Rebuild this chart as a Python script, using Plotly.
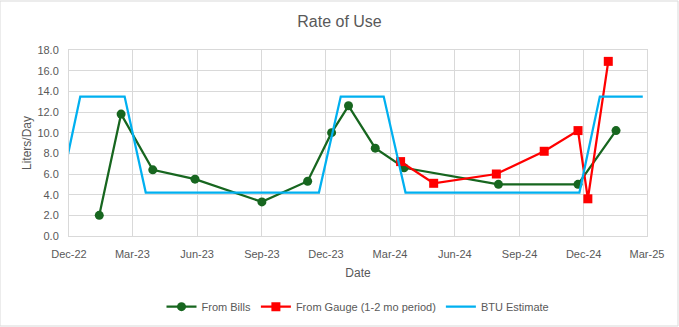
import plotly.graph_objects as go

# ---- data ----
bills_dates = ["2023-01-13", "2023-02-13", "2023-03-30", "2023-05-29", "2023-09-01",
               "2023-11-05", "2023-12-09", "2024-01-02", "2024-02-09", "2024-03-21",
               "2024-08-02", "2024-11-23", "2025-01-16"]
bills_vals = [2.0, 11.8, 6.4, 5.5, 3.3, 5.3, 10.0, 12.6, 8.5, 6.6, 5.0, 5.0, 10.2]

gauge_dates = ["2024-03-16", "2024-05-02", "2024-07-30", "2024-10-06", "2024-11-23",
               "2024-12-07", "2025-01-05"]
gauge_vals = [7.2, 5.1, 6.0, 8.2, 10.2, 3.6, 16.9]

btu_dates = ["2022-11-18", "2022-12-17", "2023-02-18", "2023-03-20", "2023-11-21",
             "2023-12-22", "2024-02-21", "2024-03-23", "2024-11-25", "2024-12-24",
             "2025-02-23"]
btu_vals = [4.2, 13.5, 13.5, 4.2, 4.2, 13.5, 13.5, 4.2, 4.2, 13.5, 13.5]

tick_dates = ["2022-12-01", "2023-03-01", "2023-06-01", "2023-09-01", "2023-12-01",
              "2024-03-01", "2024-06-01", "2024-09-01", "2024-12-01", "2025-03-01"]
tick_labels = ["Dec-22", "Mar-23", "Jun-23", "Sep-23", "Dec-23",
               "Mar-24", "Jun-24", "Sep-24", "Dec-24", "Mar-25"]
y_ticks = [0, 2, 4, 6, 8, 10, 12, 14, 16, 18]

GREEN = "#17661F"
RED = "#FF0000"
BLUE = "#00B0F0"
TXT = "#595959"
GRID = "#D9D9D9"
FONT = "Liberation Sans, Arial, sans-serif"

fig = go.Figure()
fig.add_trace(go.Scatter(x=bills_dates, y=bills_vals, name="From Bills",
                         mode="lines+markers",
                         line=dict(color=GREEN, width=2.25),
                         marker=dict(symbol="circle", size=9, color=GREEN)))
fig.add_trace(go.Scatter(x=gauge_dates, y=gauge_vals, name="From Gauge (1-2 mo period)",
                         mode="lines+markers",
                         line=dict(color=RED, width=2.25),
                         marker=dict(symbol="square", size=9, color=RED)))
fig.add_trace(go.Scatter(x=btu_dates, y=btu_vals, name="BTU Estimate",
                         mode="lines",
                         line=dict(color=BLUE, width=2.25)))

fig.update_layout(
    width=679, height=327,
    margin=dict(l=69, r=32, t=50, b=91, autoexpand=False),
    paper_bgcolor="white", plot_bgcolor="white",
    font=dict(family=FONT, color=TXT, size=11),
    title=dict(text="Rate of Use", x=0.5, xanchor="center", y=0.935, yanchor="middle",
               font=dict(size=16, color=TXT, family=FONT)),
    showlegend=True,
    legend=dict(orientation="h", x=0.5, xanchor="center", y=-0.38, yanchor="middle",
                font=dict(size=11, color=TXT), itemwidth=30,
                bgcolor="rgba(0,0,0,0)"),
    xaxis=dict(type="date", range=["2022-12-01", "2025-03-01"],
               tickvals=tick_dates, ticktext=tick_labels, automargin=False,
               showgrid=True, gridcolor=GRID, gridwidth=1,
               showline=True, linecolor=GRID, linewidth=1, mirror=True,
               ticks="", zeroline=False, ticklabelstandoff=8,
               tickfont=dict(size=11, color=TXT),
               title=dict(text="Date", font=dict(size=12, color=TXT), standoff=9)),
    yaxis=dict(range=[0, 18], tickvals=y_ticks, tickformat=".1f", automargin=False,
               showgrid=True, gridcolor=GRID, gridwidth=1,
               showline=True, linecolor=GRID, linewidth=1, mirror=True,
               ticks="", zeroline=False, ticklabelstandoff=7,
               tickfont=dict(size=11, color=TXT),
               title=dict(text="Liters/Day", font=dict(size=12, color=TXT), standoff=3)),
)

# outer chart border
fig.add_shape(type="rect", xref="paper", yref="paper",
              x0=-69/578, x1=1 + 31/578, y0=-90/186, y1=1 + 49/186,
              line=dict(color="#D9D9D9", width=1), layer="below")

fig.write_html("out.html")
